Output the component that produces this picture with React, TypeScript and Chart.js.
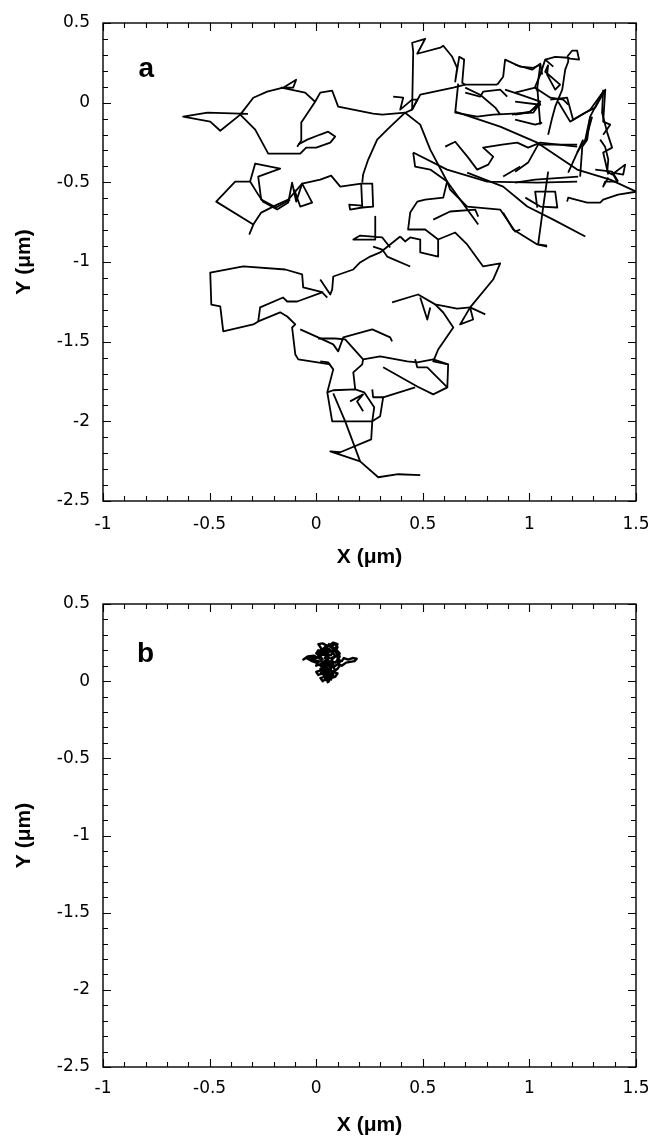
import React, { useEffect, useRef } from "react";
import { Chart, registerables } from "chart.js";
Chart.register(...registerables);

type Pt = [number, number];

const X_MIN = -1;
const X_MAX = 1.5;
const Y_MIN = -2.5;
const Y_MAX = 0.5;
const xTickValues = [-1, -0.5, 0, 0.5, 1, 1.5];
const yTickValues = [-2.5, -2, -1.5, -1, -0.5, 0, 0.5];
const xAxisTitle = "X (\u03bcm)";
const yAxisTitle = "Y (\u03bcm)";
const panelLabels = ["a", "b"];

// ---- Panel a trajectory (µm), traced as pieces ----
const seg01: Pt[] = [[-0.32,-0.07],[-0.51,-0.063],[-0.624,-0.088],[-0.497,-0.119],[-0.45,-0.176],[-0.356,-0.075],[-0.295,0.031],[-0.23,0.069],[-0.155,0.094],[-0.094,0.144],[-0.108,0.094],[-0.164,0.094],[-0.052,0.063],[-0.005,0.006],[-0.07,-0.125],[-0.07,-0.238],[-0.089,-0.276]];
const seg02: Pt[] = [[-0.005,0.006],[0.019,0.063],[0.075,0.075],[0.103,-0.025],[0.267,-0.069],[0.31,-0.075],[0.417,-0.063]];
const seg03: Pt[] = [[-0.356,-0.075],[-0.286,-0.169],[-0.225,-0.32],[-0.075,-0.32],[-0.047,-0.282],[0,-0.282],[0.066,-0.251],[0.089,-0.213],[0.056,-0.182],[0.019,-0.2],[-0.042,-0.232],[-0.084,-0.263]];
const seg04: Pt[] = [[-0.314,-0.828],[-0.295,-0.765],[-0.469,-0.621],[-0.38,-0.495],[-0.31,-0.495],[-0.272,-0.577],[-0.249,-0.621],[-0.183,-0.671],[-0.131,-0.627],[-0.113,-0.502],[-0.094,-0.621],[-0.066,-0.508],[-0.019,-0.627],[-0.075,-0.652],[-0.103,-0.545]];
const seg05: Pt[] = [[-0.31,-0.495],[-0.286,-0.382],[-0.169,-0.414],[-0.272,-0.464],[-0.258,-0.608],[-0.188,-0.658],[-0.122,-0.608]];
const seg06: Pt[] = [[-0.295,-0.765],[-0.258,-0.69],[-0.183,-0.64],[-0.131,-0.608],[-0.066,-0.508],[0.019,-0.483],[0.07,-0.458],[0.113,-0.527],[0.211,-0.508],[0.263,-0.508],[0.267,-0.652],[0.216,-0.658],[0.211,-0.508]];
const seg07: Pt[] = [[0.216,-0.658],[0.159,-0.671],[0.155,-0.64],[0.216,-0.646]];
const seg08: Pt[] = [[0.417,-0.063],[0.333,-0.169],[0.286,-0.232],[0.244,-0.357],[0.22,-0.451],[0.216,-0.502]];
const seg09: Pt[] = [[0.033,-1.191],[-0.061,-1.16],[-0.066,-1.078],[-0.145,-1.047],[-0.342,-1.028],[-0.497,-1.066],[-0.492,-1.267],[-0.45,-1.279],[-0.436,-1.436],[-0.295,-1.392],[-0.272,-1.373],[-0.263,-1.285],[-0.155,-1.223],[-0.136,-1.248],[-0.089,-1.248],[0.028,-1.191],[0.052,-1.223]];
const seg10: Pt[] = [[-0.272,-1.373],[-0.169,-1.316],[-0.136,-1.342],[-0.098,-1.392],[-0.113,-1.411],[-0.098,-1.58],[-0.084,-1.611],[0.066,-1.643]];
const seg11: Pt[] = [[-0.075,-1.423],[0.009,-1.473],[0.08,-1.517],[0.103,-1.561],[0.127,-1.473],[0.263,-1.423],[0.347,-1.473],[0.356,-1.498]];
const seg12: Pt[] = [[0.009,-1.48],[0.089,-1.48],[0.136,-1.486],[0.22,-1.611],[0.3,-1.592],[0.427,-1.624],[0.474,-1.63],[0.549,-1.611],[0.619,-1.643]];
const seg13: Pt[] = [[0.019,-1.624],[0.056,-1.63],[0.08,-1.674],[0.052,-1.818],[0.075,-2.0],[0.263,-2.0],[0.272,-1.912],[0.225,-1.818],[0.183,-1.799],[0.08,-1.805],[0.052,-1.818]];
const seg14: Pt[] = [[0.183,-1.799],[0.174,-1.693],[0.216,-1.643],[0.22,-1.611]];
const seg15: Pt[] = [[0.159,-1.875],[0.22,-1.831],[0.192,-1.875],[0.22,-1.937]];
const seg16: Pt[] = [[0.263,-1.799],[0.267,-1.849],[0.314,-1.849],[0.3,-1.968],[0.263,-2.0]];
const seg17: Pt[] = [[0.314,-1.849],[0.464,-1.787]];
const seg18: Pt[] = [[0.08,-1.824],[0.136,-2.0],[0.206,-2.251],[0.291,-2.351],[0.385,-2.332],[0.488,-2.338]];
const seg19: Pt[] = [[0.263,-2.0],[0.258,-2.113],[0.113,-2.194],[0.066,-2.188],[0.206,-2.251]];
const seg20: Pt[] = [[0.314,-1.661],[0.474,-1.781],[0.549,-1.831],[0.615,-1.787],[0.521,-1.661],[0.474,-1.661],[0.464,-1.611]];
const seg21: Pt[] = [[0.615,-1.787],[0.619,-1.643],[0.549,-1.624],[0.572,-1.549],[0.643,-1.411],[0.596,-1.317],[0.558,-1.266]];
const seg22: Pt[] = [[0.356,-1.254],[0.478,-1.204],[0.558,-1.266],[0.661,-1.292],[0.722,-1.285],[0.793,-1.329]];
const seg23: Pt[] = [[0.488,-1.223],[0.521,-1.361],[0.535,-1.285]];
const seg24: Pt[] = [[0.722,-1.285],[0.675,-1.392],[0.736,-1.361],[0.722,-1.285]];
const seg25: Pt[] = [[0.722,-1.285],[0.83,-1.11],[0.863,-1.009],[0.783,-1.028],[0.708,-0.89],[0.652,-0.815],[0.572,-0.859],[0.511,-0.796],[0.474,-0.796],[0.431,-0.796],[0.441,-0.69],[0.474,-0.621],[0.511,-0.608],[0.596,-0.596],[0.614,-0.495]];
const seg26: Pt[] = [[0.394,-0.84],[0.417,-0.871],[0.441,-0.846],[0.488,-0.859],[0.488,-0.94],[0.572,-0.966],[0.572,-0.859]];
const seg27: Pt[] = [[0.277,-0.715],[0.277,-0.859],[0.174,-0.859],[0.206,-0.834],[0.31,-0.846],[0.347,-0.909]];
const seg28: Pt[] = [[0.267,-0.903],[0.31,-0.922],[0.333,-0.966],[0.441,-1.028]];
const seg29: Pt[] = [[0.394,-0.84],[0.3,-0.94],[0.253,-0.966],[0.206,-1.003],[0.174,-1.047],[0.08,-1.091],[0.075,-1.172],[0.066,-1.204],[0.019,-1.11]];
const seg30: Pt[] = [[0.417,-0.063],[0.488,-0.138],[0.535,-0.295],[0.614,-0.495],[0.675,-0.608],[0.76,-0.765]];
const seg31: Pt[] = [[0.455,-0.313],[0.464,-0.401],[0.535,-0.42],[0.614,-0.495],[0.628,-0.545],[0.708,-0.652],[0.863,-0.671],[0.933,-0.809],[0.957,-0.796]];
const seg32: Pt[] = [[0.455,-0.313],[0.614,-0.42],[0.802,-0.495],[1.037,-0.502],[1.224,-0.495]];
const seg33: Pt[] = [[0.549,-0.734],[0.628,-0.683],[0.746,-0.671],[0.76,-0.715]];
const seg34: Pt[] = [[0.605,-0.276],[0.652,-0.245],[0.713,-0.345],[0.755,-0.42],[0.807,-0.389],[0.83,-0.339],[0.783,-0.282],[0.872,-0.263],[0.943,-0.251],[0.994,-0.282],[1.051,-0.251],[1.224,-0.276]];
const seg35: Pt[] = [[0.652,-0.056],[0.863,-0.15],[1.037,-0.251],[1.224,-0.42],[1.379,-0.483],[1.501,-0.558]];
const seg36: Pt[] = [[0.708,-0.439],[0.877,-0.527],[0.99,-0.652],[1.112,-0.734],[1.262,-0.84]];
const seg37: Pt[] = [[0.877,-0.69],[0.924,-0.796],[1.037,-0.89],[1.083,-0.903]];
const seg38: Pt[] = [[0.981,-0.596],[1.051,-0.652],[1.131,-0.658],[1.121,-0.558],[1.027,-0.558],[1.037,-0.658]];
const seg39: Pt[] = [[1.088,-0.433],[1.065,-0.652],[1.041,-0.89],[1.083,-0.897]];
const seg40: Pt[] = [[1.177,-0.621],[1.182,-0.596],[1.271,-0.627],[1.332,-0.627],[1.346,-0.608],[1.416,-0.577],[1.505,-0.558]];
const seg41: Pt[] = [[0.933,-0.502],[1.027,-0.483],[1.229,-0.464]];
const seg42: Pt[] = [[1.332,-0.232],[1.355,-0.276],[1.37,-0.357],[1.365,-0.433],[1.388,-0.451],[1.449,-0.389],[1.44,-0.451],[1.388,-0.439],[1.412,-0.495],[1.355,-0.495],[1.346,-0.527],[1.37,-0.47]];
const seg43: Pt[] = [[1.309,-0.42],[1.388,-0.433],[1.416,-0.495]];
const seg44: Pt[] = [[1.238,-0.464],[1.248,-0.276],[1.271,-0.232],[1.285,-0.088],[1.346,0.069]];
const seg45: Pt[] = [[1.346,0.081],[1.341,-0.063],[1.365,-0.188],[1.388,-0.282],[1.346,-0.313],[1.37,-0.451]];
const seg46: Pt[] = [[1.098,0.019],[1.177,0.031],[1.205,-0.107],[1.229,-0.088],[1.285,-0.044],[1.346,0.069]];
const seg47: Pt[] = [[0.933,-0.433],[0.994,-0.376],[1.041,-0.263],[1.224,-0.263]];
const seg48: Pt[] = [[0.45,-0.044],[0.455,0.32],[0.45,0.376],[0.511,0.401],[0.474,0.307],[0.582,0.345],[0.596,0.357],[0.638,0.288],[0.661,0.219],[0.652,0.132],[0.671,0.288],[0.694,0.27],[0.685,0.125],[0.699,0.113],[0.849,0.113]];
const seg49: Pt[] = [[0.45,-0.044],[0.488,0.05],[0.643,0.094],[0.699,0.113]];
const seg50: Pt[] = [[0.666,0.119],[0.652,-0.063],[0.755,-0.088],[0.83,-0.075],[1.018,-0.063],[1.051,0.0]];
const seg51: Pt[] = [[0.699,0.094],[0.769,0.05],[0.84,-0.031],[0.863,-0.075]];
const seg52: Pt[] = [[0.699,0.063],[0.769,0.038],[0.783,0.069],[0.863,0.082],[0.896,0.038]];
const seg53: Pt[] = [[0.849,0.113],[0.877,0.163],[0.886,0.27],[0.957,0.226],[1.018,0.219],[1.051,0.238],[1.037,0.094],[1.051,-0.138]];
const seg54: Pt[] = [[0.886,0.082],[0.957,0.05],[1.051,0.006],[1.004,-0.056],[0.919,-0.075]];
const seg55: Pt[] = [[1.177,0.288],[1.2,0.326],[1.224,0.326],[1.233,0.27],[1.191,0.276],[1.177,0.288]];
const seg56: Pt[] = [[1.074,0.27],[1.121,0.288],[1.182,0.282],[1.182,0.257],[1.168,0.207],[1.154,0.082],[1.121,-0.025],[1.107,-0.094],[1.088,-0.201]];
const seg57: Pt[] = [[1.112,0.226],[1.074,0.27],[1.051,0.176],[1.027,0.1],[1.041,0.069]];
const seg58: Pt[] = [[1.088,0.238],[1.074,0.194],[1.144,0.113],[1.121,0.082],[1.083,0.176],[1.088,0.238]];
const seg59: Pt[] = [[0.933,0.063],[1.027,0.094],[1.098,0.031],[1.159,0.019],[1.182,-0.013]];
const seg60: Pt[] = [[0.933,0.006],[1.051,-0.013],[0.994,-0.063],[0.933,-0.075]];
const seg61: Pt[] = [[0.933,-0.107],[1.027,-0.138],[1.06,-0.125]];
const seg62: Pt[] = [[1.135,0.006],[1.191,-0.119],[1.262,-0.063],[1.309,-0.031],[1.356,0.082],[1.346,-0.119],[1.379,-0.138],[1.346,-0.201]];
const seg63: Pt[] = [[1.294,-0.088],[1.271,-0.201],[1.262,-0.251]];
const seg64: Pt[] = [[0.361,0.038],[0.408,0.031],[0.394,-0.044],[0.45,0.019],[0.474,0.019],[0.45,-0.044],[0.417,-0.063]];
const seg65: Pt[] = [[1.285,-0.088],[1.262,-0.232],[1.224,-0.313]];
const seg66: Pt[] = [[1.182,-0.439],[1.252,-0.232]];
const seg67: Pt[] = [[0.933,0.238],[1.013,0.207],[1.051,0.245],[1.06,0.176]];
const seg68: Pt[] = [[0.877,-0.464],[0.957,-0.401]];

const trackA: Pt[][] = [
  seg01, seg02, seg03, seg04, seg05, seg06, seg07, seg08, seg09, seg10,
  seg11, seg12, seg13, seg14, seg15, seg16, seg17, seg18, seg19, seg20,
  seg21, seg22, seg23, seg24, seg25, seg26, seg27, seg28, seg29, seg30,
  seg31, seg32, seg33, seg34, seg35, seg36, seg37, seg38, seg39, seg40,
  seg41, seg42, seg43, seg44, seg45, seg46, seg47, seg48, seg49, seg50,
  seg51, seg52, seg53, seg54, seg55, seg56, seg57, seg58, seg59, seg60,
  seg61, seg62, seg63, seg64, seg65, seg66, seg67, seg68,
];

// ---- Panel b trajectory (µm) ----
const blobB: Pt[] = [[0.05,-0.01],[0.06,0.0],[0.04,0.01],[0.03,0.0],[0.02,0.02],[0.04,0.03],[0.03,0.05],[0.01,0.04],[0.0,0.06],[0.02,0.07],[0.04,0.06],[0.05,0.08],[0.03,0.09],[0.02,0.11],[0.0,0.1],[0.01,0.13],[-0.02,0.14],[-0.05,0.15],[-0.06,0.14],[-0.04,0.16],[-0.01,0.165],[0.01,0.15],[0.03,0.14],[0.02,0.16],[0.0,0.18],[0.01,0.2],[0.03,0.19],[0.02,0.22],[0.01,0.24],[0.03,0.245],[0.05,0.23],[0.04,0.2],[0.06,0.19],[0.05,0.16],[0.07,0.17],[0.08,0.2],[0.07,0.23],[0.09,0.24],[0.1,0.22],[0.09,0.19],[0.1,0.17],[0.08,0.15],[0.07,0.13],[0.09,0.12],[0.1,0.14],[0.12,0.13],[0.13,0.15],[0.15,0.14],[0.17,0.15],[0.19,0.145],[0.18,0.13],[0.16,0.125],[0.14,0.12],[0.12,0.1],[0.1,0.11],[0.08,0.09],[0.09,0.07],[0.07,0.06],[0.08,0.04],[0.06,0.03],[0.07,0.01],[0.05,0.02],[0.04,0.04],[0.06,0.06],[0.05,0.09],[0.06,0.11],[0.04,0.12],[0.05,0.14],[0.03,0.12],[0.02,0.1],[0.04,0.08],[0.02,0.05],[0.05,0.05],[0.07,0.08],[0.06,0.1],[0.08,0.11],[0.06,0.13],[0.04,0.15],[0.06,0.17],[0.04,0.18],[0.02,0.17],[0.0,0.15],[-0.03,0.155],[-0.04,0.145],[-0.02,0.13],[0.0,0.12],[0.02,0.13],[0.04,0.11],[0.03,0.08],[0.05,0.07],[0.07,0.09],[0.08,0.12],[0.07,0.15],[0.09,0.16],[0.08,0.18],[0.06,0.21],[0.04,0.22],[0.03,0.2],[0.05,0.18],[0.03,0.17],[0.01,0.18],[0.02,0.2],[0.04,0.21],[0.06,0.2],[0.07,0.19],[0.09,0.2],[0.08,0.22],[0.06,0.24],[0.05,0.22],[0.03,0.21],[0.02,0.19],[0.04,0.17],[0.06,0.15],[0.05,0.13],[0.07,0.11],[0.05,0.1],[0.03,0.1],[0.04,0.07],[0.06,0.05],[0.05,0.03],[0.04,0.01],[0.06,0.02],[0.07,0.04],[0.05,0.06],[0.03,0.06],[0.02,0.08],[0.04,0.09],[0.06,0.1],[0.09,0.1],[0.11,0.12],[0.1,0.15],[0.11,0.18],[0.09,0.21],[0.1,0.24],[0.08,0.25],[0.06,0.23],[0.08,0.21],[0.1,0.19],[0.11,0.16],[0.1,0.13],[0.11,0.1],[0.1,0.08],[0.08,0.06],[0.1,0.05],[0.09,0.03],[0.07,0.02],[0.08,0.05],[0.06,0.08],[0.04,0.05]];
const trackB: Pt[][] = [blobB];

const TICK_FONT = "'DejaVu Sans', Verdana, sans-serif";
const TITLE_FONT = "'Liberation Sans', Arial, Helvetica, sans-serif";

const framePlugin = {
  id: "frame",
  afterDraw(chart: any, _args: any, opts: any) {
    const { ctx, chartArea } = chart;
    const { left, right, top, bottom } = chartArea;
    const xs = chart.scales.x;
    const ys = chart.scales.y;
    ctx.save();
    ctx.strokeStyle = "#000";
    ctx.lineWidth = 1.4;
    ctx.strokeRect(left, top, right - left, bottom - top);
    const minorStep = 0.1;
    const nx = Math.round((xs.max - xs.min) / minorStep);
    ctx.beginPath();
    for (let i = 0; i <= nx; i++) {
      const v = xs.min + i * minorStep;
      const len = i % 5 === 0 ? 8 : 5;
      const p = Math.round(xs.getPixelForValue(v)) + 0.5;
      ctx.moveTo(p, bottom);
      ctx.lineTo(p, bottom - len);
      ctx.moveTo(p, top);
      ctx.lineTo(p, top + len);
    }
    const ny = Math.round((ys.max - ys.min) / minorStep);
    for (let i = 0; i <= ny; i++) {
      const v = ys.min + i * minorStep;
      const len = i % 5 === 0 ? 8 : 5;
      const p = Math.round(ys.getPixelForValue(v)) + 0.5;
      ctx.moveTo(left, p);
      ctx.lineTo(left + len, p);
      ctx.moveTo(right, p);
      ctx.lineTo(right - len, p);
    }
    ctx.lineWidth = 1.1;
    ctx.stroke();
    if (opts && opts.label) {
      ctx.fillStyle = "#000";
      ctx.font = `bold 28px ${TITLE_FONT}`;
      ctx.textAlign = "left";
      ctx.textBaseline = "alphabetic";
      ctx.fillText(opts.label, xs.getPixelForValue(opts.lx), ys.getPixelForValue(opts.ly));
    }
    ctx.restore();
  },
};

interface PanelProps {
  track: Pt[][];
  label: string;
  lx: number;
  ly: number;
  top: number;
  height: number;
  areaTop: number;
  areaBottom: number;
  tickPad: number;
  titlePad: number;
  lineWidth: number;
}

function Panel(props: PanelProps) {
  const ref = useRef<HTMLCanvasElement>(null);
  useEffect(() => {
    const { track, label, lx, ly, height, areaTop, areaBottom, tickPad, titlePad, lineWidth } = props;
    const chart = new Chart(ref.current as HTMLCanvasElement, {
      type: "scatter",
      data: {
        datasets: track.map((seg) => ({
          data: seg.map(([x, y]) => ({ x, y })),
          showLine: true,
          borderColor: "#000",
          backgroundColor: "#000",
          borderWidth: lineWidth,
          borderJoinStyle: "round",
          pointRadius: 0,
          pointHoverRadius: 0,
          tension: 0,
          fill: false,
        })),
      },
      options: {
        responsive: false,
        animation: false,
        events: [],
        layout: { padding: { left: 0, right: 17, top: areaTop, bottom: 0 } },
        plugins: {
          legend: { display: false },
          tooltip: { enabled: false },
          frame: { label, lx, ly },
        } as any,
        scales: {
          x: {
            type: "linear",
            min: X_MIN,
            max: X_MAX,
            grid: { display: false, drawTicks: false },
            border: { display: false },
            afterBuildTicks: (s: any) => {
              s.ticks = xTickValues.map((v) => ({ value: v }));
            },
            afterFit: (s: any) => {
              s.height = height - areaBottom;
              s.paddingLeft = 0;
              s.paddingRight = 0;
            },
            ticks: {
              padding: tickPad,
              color: "#000",
              maxRotation: 0,
              autoSkip: false,
              font: { family: TICK_FONT, size: 17 },
              callback: (v: any) => String(v),
            },
            title: {
              display: true,
              text: xAxisTitle,
              color: "#000",
              font: { family: TITLE_FONT, size: 21, weight: "bold" },
              padding: { top: 0, bottom: titlePad },
            },
          },
          y: {
            type: "linear",
            min: Y_MIN,
            max: Y_MAX,
            grid: { display: false, drawTicks: false },
            border: { display: false },
            afterBuildTicks: (s: any) => {
              s.ticks = yTickValues.map((v) => ({ value: v }));
            },
            afterFit: (s: any) => {
              s.width = 103;
              s.paddingTop = 0;
              s.paddingBottom = 0;
            },
            ticks: {
              padding: 13,
              color: "#000",
              autoSkip: false,
              font: { family: TICK_FONT, size: 17 },
              callback: (v: any) => String(v),
            },
            title: {
              display: true,
              text: yAxisTitle,
              color: "#000",
              font: { family: TITLE_FONT, size: 21, weight: "bold" },
              padding: { top: 12, bottom: 0 },
            },
          },
        },
      } as any,
      plugins: [framePlugin],
    });
    return () => chart.destroy();
  }, []);
  return (
    <canvas
      ref={ref}
      width={653}
      height={props.height}
      style={{ position: "absolute", left: 0, top: props.top, width: 653, height: props.height }}
    />
  );
}

export default function App() {
  return (
    <div style={{ position: "absolute", left: 0, top: 0, width: 653, height: 1138, background: "#fff" }}>
      <Panel track={trackA} label={panelLabels[0]} lx={-0.833} ly={0.163} top={0} height={580}
        areaTop={23} areaBottom={501} tickPad={13} titlePad={10} lineWidth={1.8} />
      <Panel track={trackB} label={panelLabels[1]} lx={-0.84} ly={0.124} top={580} height={558}
        areaTop={24} areaBottom={487} tickPad={11} titlePad={0} lineWidth={2.4} />
    </div>
  );
}
